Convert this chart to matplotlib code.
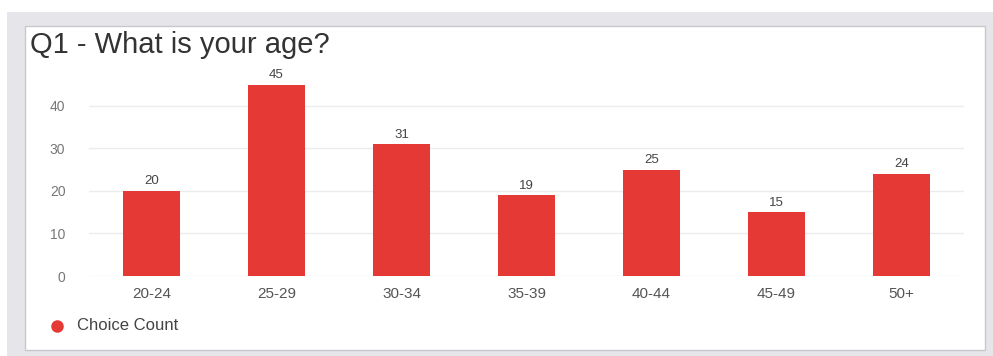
import matplotlib.pyplot as plt
from matplotlib.patches import Rectangle
from matplotlib.lines import Line2D

# data
age_groups = ['20-24', '25-29', '30-34', '35-39', '40-44', '45-49', '50+']
counts = [20, 45, 31, 19, 25, 15, 24]
yticks = [0, 10, 20, 30, 40]

red = '#e53935'
plt.rcParams['font.family'] = ['Liberation Sans', 'DejaVu Sans']

fig = plt.figure(figsize=(9.93, 3.56), dpi=100)
fig.patch.set_facecolor('white')

# grey frame + white card behind the chart
fig.add_artist(Rectangle((7 / 993, 0), 986 / 993, 1 - 12 / 356,
                         transform=fig.transFigure, facecolor='#e6e6ea',
                         edgecolor='none', zorder=-3))
fig.add_artist(Rectangle((25 / 993, 1 - 350 / 356), 960 / 993, 324 / 356,
                         transform=fig.transFigure, facecolor='white',
                         edgecolor='#c8c8cc', linewidth=1, zorder=-2))

ax = fig.add_axes([89 / 993, 1 - 276 / 356, 875 / 993, 200 / 356])
ax.set_facecolor('none')

x = range(len(age_groups))
ax.bar(x, counts, width=0.45, color=red, zorder=2)
for xi, v in zip(x, counts):
    ax.text(xi, v + 0.8, str(v), ha='center', va='bottom', fontsize=9.5, color='#444444')

ax.set_xlim(-0.5, 6.5)
ax.set_ylim(0, 47)
ax.set_yticks(yticks)
ax.set_xticks(list(x))
ax.set_xticklabels(age_groups)
ax.grid(axis='y', color='#ececec', linewidth=1, zorder=0)
for s in ax.spines.values():
    s.set_visible(False)
ax.tick_params(axis='both', length=0, colors='#555555', labelsize=11)
ax.tick_params(axis='y', pad=17, labelcolor='#777777', labelsize=10)
ax.tick_params(axis='x', pad=8)

fig.text(30 / 993, 1 - 45 / 356, 'Q1 - What is your age?', fontsize=21,
         color='#333333', va='center', ha='left')

# legend
fig.add_artist(Line2D([57 / 993], [1 - 326 / 356], marker='o', markersize=8,
                      color=red, linestyle='none', transform=fig.transFigure))
fig.text(77 / 993, 1 - 326 / 356, 'Choice Count', fontsize=12, color='#444444',
         va='center', ha='left')

fig.savefig('out.png', dpi=100)
